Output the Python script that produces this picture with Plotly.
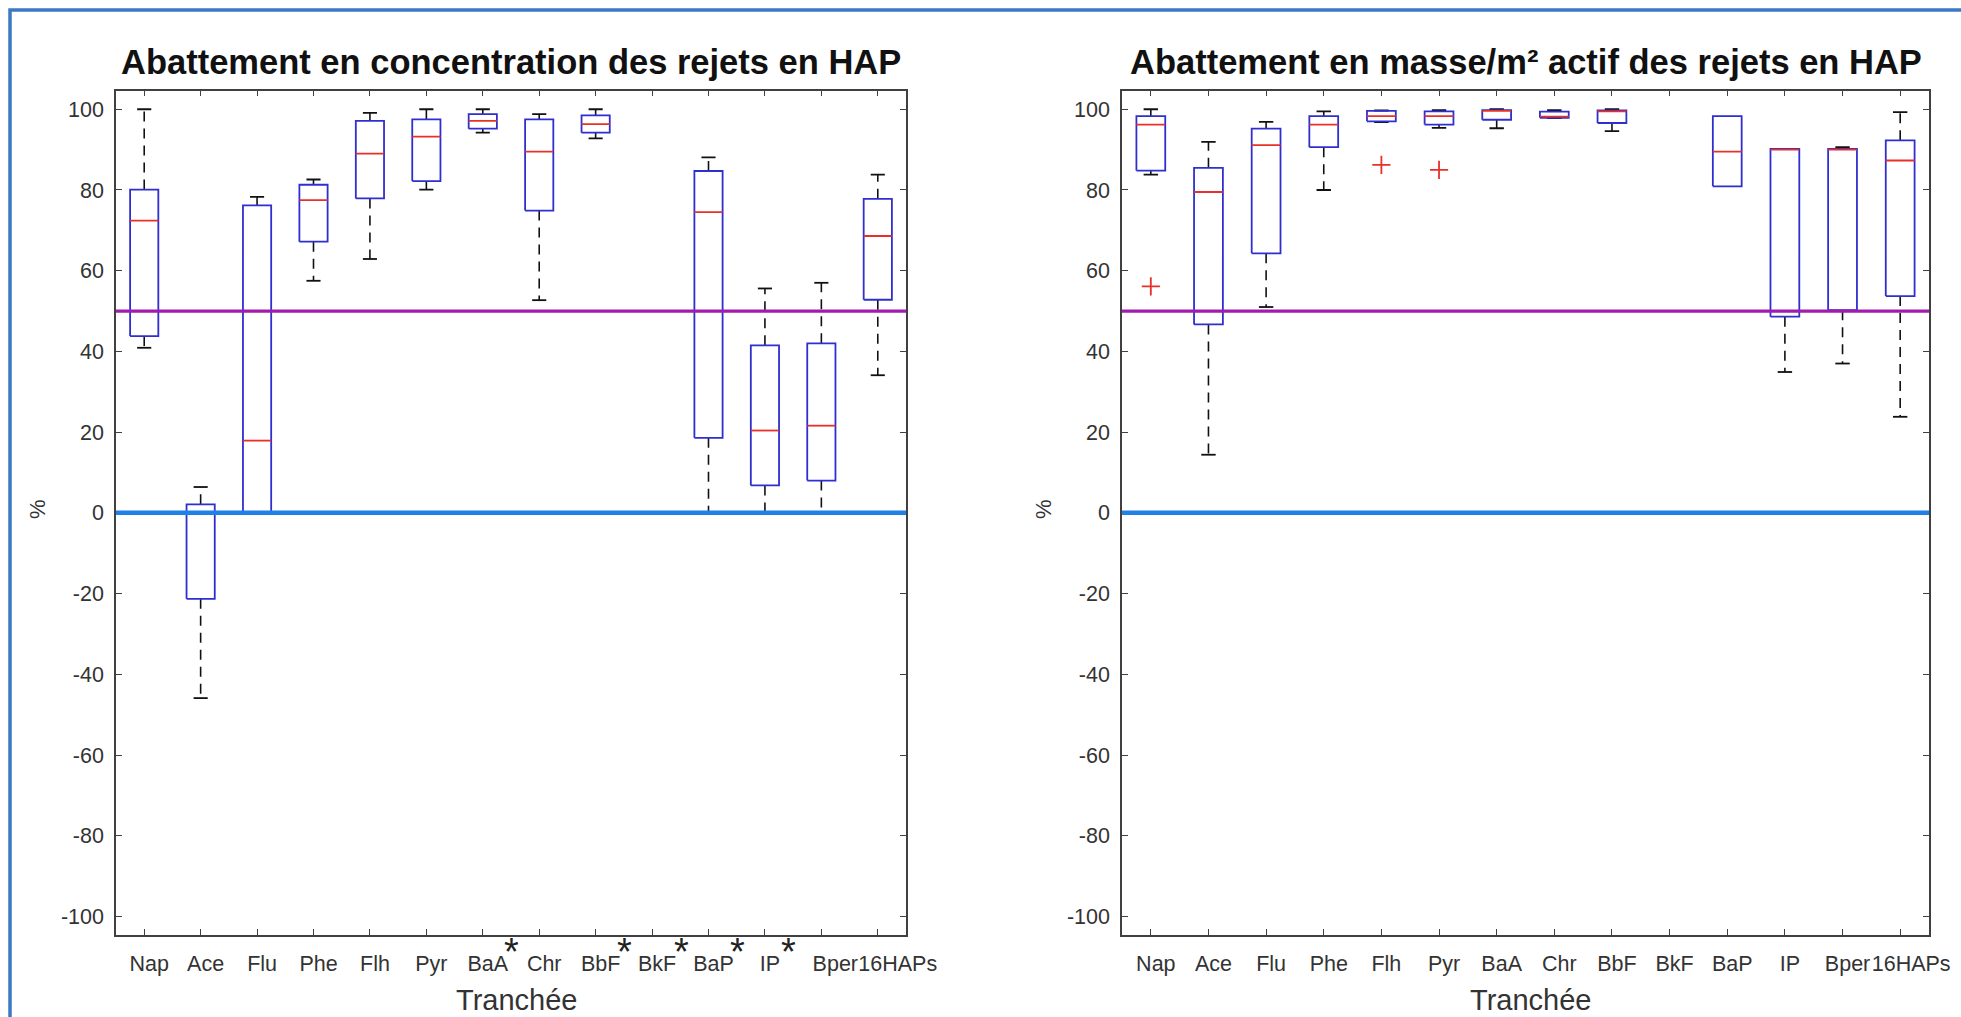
import plotly.graph_objects as go

# ---------------- data ----------------
categories = ["Nap", "Ace", "Flu", "Phe", "Flh", "Pyr", "BaA", "Chr", "BbF", "BkF", "BaP", "IP", "Bper", "16HAPs"]
starred_left = ["BaA", "BbF", "BkF", "BaP", "IP"]

# Abattement en concentration (left panel)
conc_min = [40.9, -45.9, 0.0, 57.5, 62.9, 80.1, 94.2, 52.7, 92.8, None, 0.0, 0.0, 0.0, 34.1]
conc_q1 = [43.8, -21.3, 0.0, 67.2, 77.9, 82.2, 95.2, 74.9, 94.2, None, 18.6, 6.8, 8.0, 52.8]
conc_med = [72.4, 0.0, 17.9, 77.5, 89.0, 93.2, 97.1, 89.5, 96.3, None, 74.5, 20.4, 21.6, 68.6]
conc_q3 = [80.1, 2.1, 76.2, 81.3, 97.1, 97.5, 98.8, 97.5, 98.5, None, 84.7, 41.5, 42.0, 77.8]
conc_max = [100.0, 6.4, 78.3, 82.6, 99.1, 100.0, 100.0, 98.8, 100.0, None, 88.1, 55.6, 57.0, 83.8]
conc_outlier_cats = []
conc_outlier_vals = []

# Abattement en masse/m² actif (right panel)
mass_min = [83.8, 14.4, 51.0, 80.0, 96.8, 95.4, 95.3, 97.8, 94.6, None, 80.9, 34.9, 37.0, 23.8]
mass_q1 = [84.8, 46.7, 64.3, 90.6, 97.0, 96.2, 97.4, 97.9, 96.6, None, 80.9, 48.6, 50.2, 53.7]
mass_med = [96.2, 79.5, 91.1, 96.2, 98.3, 98.3, 99.6, 98.2, 99.5, None, 89.5, 90.0, 90.0, 87.3]
mass_q3 = [98.3, 85.5, 95.2, 98.3, 99.6, 99.5, 99.8, 99.4, 99.7, None, 98.3, 90.2, 90.2, 92.3]
mass_max = [100.0, 91.9, 96.9, 99.5, 99.7, 99.8, 100.0, 99.8, 100.0, None, 98.3, 90.2, 90.6, 99.3]
mass_outlier_cats = ["Nap", "Flh", "Pyr"]
mass_outlier_vals = [56.1, 86.2, 85.0]

y_ticks = [-100, -80, -60, -40, -20, 0, 20, 40, 60, 80, 100]
ref_lines = [0, 50]

titles = ["Abattement en concentration des rejets en HAP",
          "Abattement en masse/m² actif des rejets en HAP"]
x_title = "Tranchée"
y_title = "%"

# ---------------- style ----------------
W, H = 1961, 1017
FONT = "Liberation Sans, Arial, Helvetica, sans-serif"
BOX_BLUE = "#2f2fd0"
MED_RED = "#e8302a"
AX_COL = "#404040"
TXT_COL = "#333333"
BOX_HW = 0.25
CAP_HW = 0.125
NBSP = "\u00a0"
# label padding (non-breaking spaces) so that neighbouring labels sit like the reference
left_pad = {"Bper": 3, "16HAPs": 5}
right_pad = {"16HAPs": 2}
star_shift = {"IP": 24}

def px_x(p):
    return p / W

def px_y(p):
    return 1 - p / H

left_dom = [px_x(116), px_x(906)]
right_dom = [px_x(1122), px_x(1929)]
y_dom = [px_y(935), px_y(90.7)]

positions = list(range(1, len(categories) + 1))


def build(xa, ya, mins, q1s, meds, q3s, maxs, out_cats, out_vals):
    bx, by, mx, my, wx, wy, cx, cy = [], [], [], [], [], [], [], []
    for i, cat in enumerate(categories):
        if meds[i] is None:
            continue
        c = positions[i]
        bx += [c - BOX_HW, c + BOX_HW, c + BOX_HW, c - BOX_HW, c - BOX_HW, None]
        by += [q1s[i], q1s[i], q3s[i], q3s[i], q1s[i], None]
        mx += [c - BOX_HW, c + BOX_HW, None]
        my += [meds[i], meds[i], None]
        if maxs[i] > q3s[i]:
            wx += [c, c, None]
            wy += [q3s[i], maxs[i], None]
            cx += [c - CAP_HW, c + CAP_HW, None]
            cy += [maxs[i], maxs[i], None]
        if mins[i] < q1s[i]:
            wx += [c, c, None]
            wy += [q1s[i], mins[i], None]
            cx += [c - CAP_HW, c + CAP_HW, None]
            cy += [mins[i], mins[i], None]
    traces = [
        go.Scatter(x=wx, y=wy, mode="lines", xaxis=xa, yaxis=ya, hoverinfo="skip",
                   line=dict(color="#111111", width=1.6, dash="10px,7px")),
        go.Scatter(x=cx, y=cy, mode="lines", xaxis=xa, yaxis=ya, hoverinfo="skip",
                   line=dict(color="#111111", width=1.8)),
        go.Scatter(x=bx, y=by, mode="lines", xaxis=xa, yaxis=ya, hoverinfo="skip",
                   line=dict(color=BOX_BLUE, width=1.8)),
        go.Scatter(x=mx, y=my, mode="lines", xaxis=xa, yaxis=ya, hoverinfo="skip",
                   line=dict(color=MED_RED, width=1.8)),
    ]
    if out_cats:
        ox = [positions[categories.index(c)] for c in out_cats]
        traces.append(go.Scatter(x=ox, y=out_vals, mode="markers", xaxis=xa, yaxis=ya,
                                 hoverinfo="skip",
                                 marker=dict(symbol="cross-thin", size=13,
                                             line=dict(color=MED_RED, width=1.8))))
    return traces


fig = go.Figure()
for t in build("x", "y", conc_min, conc_q1, conc_med, conc_q3, conc_max,
               conc_outlier_cats, conc_outlier_vals):
    fig.add_trace(t)
for t in build("x2", "y2", mass_min, mass_q1, mass_med, mass_q3, mass_max,
               mass_outlier_cats, mass_outlier_vals):
    fig.add_trace(t)

left_ticktext = [NBSP * left_pad.get(c, 0) + c for c in categories]
right_ticktext = [NBSP * right_pad.get(c, 0) + c for c in categories]

axis_common = dict(showline=True, linecolor=AX_COL, linewidth=1.5, mirror="ticks",
                   ticks="inside", ticklen=6, tickwidth=1.3, tickcolor=AX_COL,
                   showgrid=False, zeroline=False, fixedrange=True, automargin=False,
                   tickfont=dict(family=FONT, size=21.5, color=TXT_COL))

xcommon = dict(axis_common, range=[0.5, len(categories) + 0.5], tickmode="array",
               tickvals=positions, ticklabelshift=5, tickangle=0, ticklabelstandoff=8)
ycommon = dict(axis_common, range=[-104.6, 104.6], tickmode="array", tickvals=y_ticks,
               ticktext=[str(v) for v in y_ticks], ticklabelstandoff=6)

fig.update_layout(
    width=W, height=H,
    margin=dict(l=0, r=0, t=0, b=0, autoexpand=False),
    paper_bgcolor="white", plot_bgcolor="white",
    showlegend=False,
    font=dict(family=FONT, color=TXT_COL),
    xaxis=dict(xcommon, domain=left_dom, anchor="y", ticktext=left_ticktext),
    yaxis=dict(ycommon, domain=y_dom, anchor="x"),
    xaxis2=dict(xcommon, domain=right_dom, anchor="y2", ticktext=right_ticktext),
    yaxis2=dict(ycommon, domain=y_dom, anchor="x2"),
)

# reference lines (0 in blue, 50 in purple)
line_styles = {0: dict(color="#1f80e8", width=4.5), 50: dict(color="#a01cb0", width=3.2)}
for xr, yr in (("x domain", "y"), ("x2 domain", "y2")):
    for v in ref_lines:
        fig.add_shape(type="line", xref=xr, yref=yr, x0=0, x1=1, y0=v, y1=v,
                      line=line_styles[v], layer="above")

# asterisks next to the starred compounds of the left panel
for c in starred_left:
    fig.add_annotation(text="*", xref="x", yref="paper", x=positions[categories.index(c)],
                       y=px_y(952), xshift=star_shift.get(c, 29), xanchor="center",
                       yanchor="middle", showarrow=False,
                       font=dict(family=FONT, size=38, color="#222222"))

# titles and axis labels
centers = [(left_dom[0] + left_dom[1]) / 2, (right_dom[0] + right_dom[1]) / 2]
for k, cxp in enumerate(centers):
    fig.add_annotation(text="<b>" + titles[k] + "</b>", xref="paper", yref="paper",
                       x=cxp, y=px_y(62), xanchor="center", yanchor="middle",
                       showarrow=False, font=dict(family=FONT, size=34.5, color="#111111"))
    fig.add_annotation(text=x_title, xref="paper", yref="paper",
                       x=cxp + px_x(5), y=px_y(1000), xanchor="center", yanchor="middle",
                       showarrow=False, font=dict(family=FONT, size=29, color=TXT_COL))
for xp in (px_x(37), px_x(1043)):
    fig.add_annotation(text=y_title, xref="paper", yref="paper", x=xp, y=px_y(509),
                       xanchor="center", yanchor="middle", textangle=-90,
                       showarrow=False, font=dict(family=FONT, size=22, color=TXT_COL))

# outer blue frame
fig.add_shape(type="rect", xref="paper", yref="paper", x0=px_x(10), y0=px_y(10),
              x1=1.02, y1=-0.02, line=dict(color="#3d78c2", width=3.5), layer="above")

fig.write_html("out.html", config={"displayModeBar": False},
               post_script="document.body.style.margin='0';")
